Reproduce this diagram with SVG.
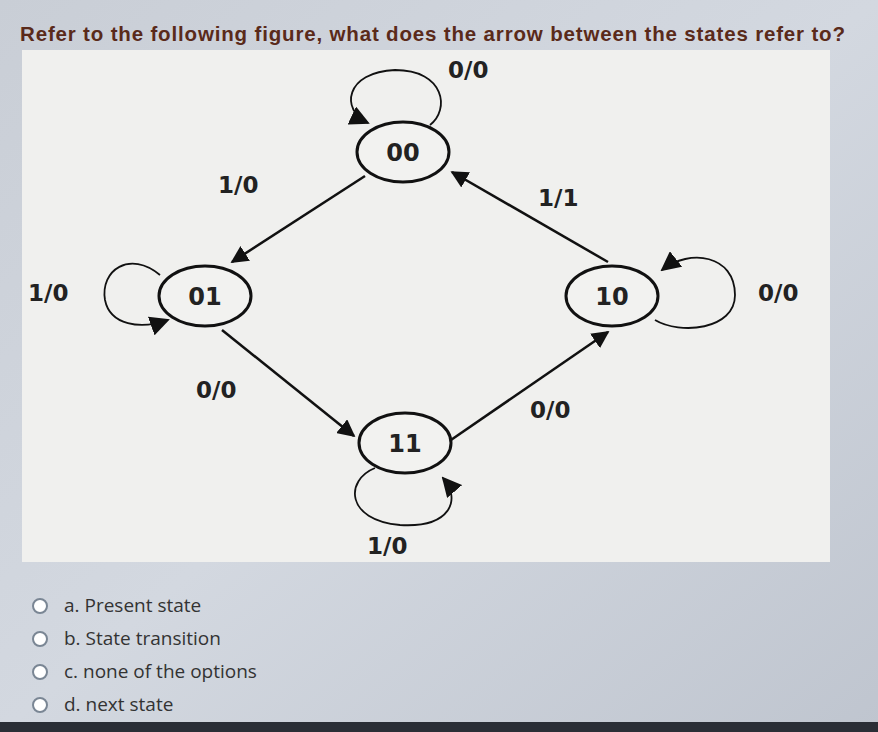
<svg xmlns="http://www.w3.org/2000/svg" width="878" height="732" viewBox="0 0 878 732">
<defs>
<linearGradient id="bg" x1="0" y1="0" x2="1" y2="1"><stop offset="0" stop-color="#c9ced6"/><stop offset="0.5" stop-color="#d3d8e0"/><stop offset="1" stop-color="#bfc5cf"/></linearGradient>
<marker id="ah" viewBox="0 0 10 10" refX="9" refY="5" markerWidth="7" markerHeight="7" orient="auto"><path d="M0,0 L10,5 L0,10 z" fill="#111"/></marker>
<marker id="ah2" viewBox="0 0 10 10" refX="9" refY="5" markerWidth="11" markerHeight="11" orient="auto"><path d="M0,0 L10,5 L0,10 z" fill="#111"/></marker>
<style>
.st{fill:#f2f2f0;stroke:#111;stroke-width:3}
.lb{font-family:"DejaVu Sans",sans-serif;font-weight:bold;font-size:23px;fill:#222}
.sl{font-family:"DejaVu Sans",sans-serif;font-weight:bold;font-size:24px;fill:#222;text-anchor:middle}
.e{fill:none;stroke:#111;stroke-width:2.5;marker-end:url(#ah)}
.lp{fill:none;stroke:#111;stroke-width:1.8;marker-end:url(#ah2)}
.opt{font-family:"Open Sans",sans-serif;font-size:19px;fill:#333}
.rb{fill:#fff;stroke:#7a8694;stroke-width:2}
</style>
</defs>
<rect width="878" height="732" fill="url(#bg)"/>
<rect x="0" y="722" width="878" height="10" fill="#2a2e36"/>
<rect x="22" y="50" width="808" height="512" fill="#f0f0ee"/>
<text x="20" y="41" font-family="Liberation Sans, sans-serif" font-weight="bold" font-size="20.5" fill="#5a2a1a" textLength="825" lengthAdjust="spacing">Refer to the following figure, what does the arrow between the states refer to?</text>
<g id="edges">
<path class="e" d="M365,176 L232,262"/>
<path class="e" d="M608,262 L452,172"/>
<path class="e" d="M222,330 L354,436"/>
<path class="e" d="M448,442 L608,332"/>
<path class="lp" d="M430,125 C450,110 445,70 395,70 C345,72 340,110 368,123"/>
<path class="lp" d="M160,275 C130,250 100,270 105,300 C110,325 140,330 168,320"/>
<path class="lp" d="M655,320 C680,335 735,330 735,295 C735,255 690,248 662,270"/>
<path class="lp" d="M375,468 C345,480 345,520 400,525 C450,528 462,500 443,478"/>
</g>
<g id="s00"><ellipse class="st" cx="403" cy="152" rx="46" ry="30"/><text class="sl" x="403" y="161">00</text></g>
<g id="s01"><ellipse class="st" cx="205" cy="296" rx="46" ry="30"/><text class="sl" x="205" y="305">01</text></g>
<g id="s10"><ellipse class="st" cx="612" cy="296" rx="46" ry="30"/><text class="sl" x="612" y="305">10</text></g>
<g id="s11"><ellipse class="st" cx="405" cy="443" rx="46" ry="30"/><text class="sl" x="405" y="452">11</text></g>
<g id="labels">
<text class="lb" x="448" y="78">0/0</text>
<text class="lb" x="218" y="193">1/0</text>
<text class="lb" x="538" y="206">1/1</text>
<text class="lb" x="28" y="301">1/0</text>
<text class="lb" x="758" y="301">0/0</text>
<text class="lb" x="196" y="398">0/0</text>
<text class="lb" x="530" y="418">0/0</text>
<text class="lb" x="367" y="554">1/0</text>
</g>
<g id="options">
<circle class="rb" cx="40" cy="606" r="7"/><text class="opt" x="64" y="612">a. Present state</text>
<circle class="rb" cx="40" cy="639" r="7"/><text class="opt" x="64" y="645">b. State transition</text>
<circle class="rb" cx="40" cy="672" r="7"/><text class="opt" x="64" y="678">c. none of the options</text>
<circle class="rb" cx="40" cy="705" r="7"/><text class="opt" x="64" y="711">d. next state</text>
</g>
</svg>
